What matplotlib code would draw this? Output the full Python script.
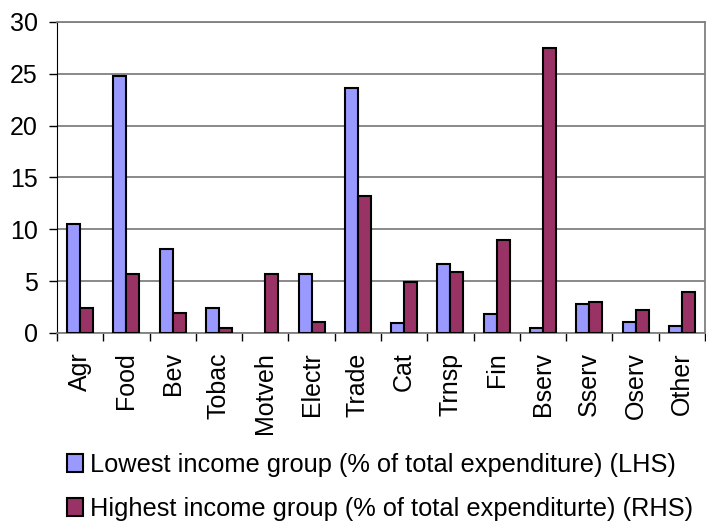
import numpy as np
import matplotlib.pyplot as plt
from matplotlib.patches import Patch

categories = ["Agr", "Food", "Bev", "Tobac", "Motveh", "Electr", "Trade",
              "Cat", "Trnsp", "Fin", "Bserv", "Sserv", "Oserv", "Other"]
lowest = [10.5, 24.8, 8.1, 2.4, 0.0, 5.7, 23.6, 0.95, 6.7, 1.85, 0.5, 2.8, 1.1, 0.7]
highest = [2.45, 5.7, 1.9, 0.5, 5.7, 1.1, 13.2, 4.9, 5.9, 9.0, 27.5, 3.0, 2.25, 4.0]

low_label = "Lowest income group (% of total expenditure) (LHS)"
high_label = "Highest income group (% of total expenditurte) (RHS)"

plt.rcParams["font.family"] = ["Liberation Sans", "DejaVu Sans"]

fig = plt.figure(figsize=(7.06, 5.22), dpi=100)
ax = fig.add_axes([57 / 706, 189 / 522, 648 / 706, 311 / 522])

x = np.arange(len(categories))
w = 0.28
# zero values are not drawn at all (no flat outline)
low_h = np.where(np.array(lowest) == 0, np.nan, lowest)
high_h = np.where(np.array(highest) == 0, np.nan, highest)
ax.bar(x - w / 2, low_h, w, color="#9999FF", edgecolor="black", linewidth=1.5, zorder=3)
ax.bar(x + w / 2, high_h, w, color="#993366", edgecolor="black", linewidth=1.5, zorder=3)

ax.set_xlim(-0.5, len(categories) - 0.5)
ax.set_ylim(0, 30)
ax.set_yticks(range(0, 31, 5))
ax.tick_params(axis="y", labelsize=18, length=6, width=1, pad=8)
ax.yaxis.grid(True, color="#808080", linewidth=1.3, zorder=0)

ax.set_xticks(x)
ax.set_xticklabels(categories, rotation=90, fontsize=18)
ax.set_xticks(np.arange(-0.5, len(categories)), minor=True)
ax.tick_params(axis="x", which="major", length=0, pad=14)
ax.tick_params(axis="x", which="minor", length=6, width=1, color="black")

for side in ["top", "right"]:
    ax.spines[side].set_color("#808080")
    ax.spines[side].set_linewidth(1.3)
ax.spines["left"].set_color("black")
ax.spines["bottom"].set_color("#808080")
ax.spines["bottom"].set_linewidth(1.3)

handles = [Patch(facecolor="#9999FF", edgecolor="black", linewidth=1.5),
           Patch(facecolor="#993366", edgecolor="black", linewidth=1.5)]
fig.legend(handles, [low_label, high_label], loc="upper left",
           bbox_to_anchor=(67 / 706, 69 / 522), frameon=False, fontsize=18.3,
           handlelength=0.63, handleheight=0.67, handletextpad=0.27,
           labelspacing=0.78, borderpad=0, borderaxespad=0)

fig.savefig("out.png", dpi=100)
